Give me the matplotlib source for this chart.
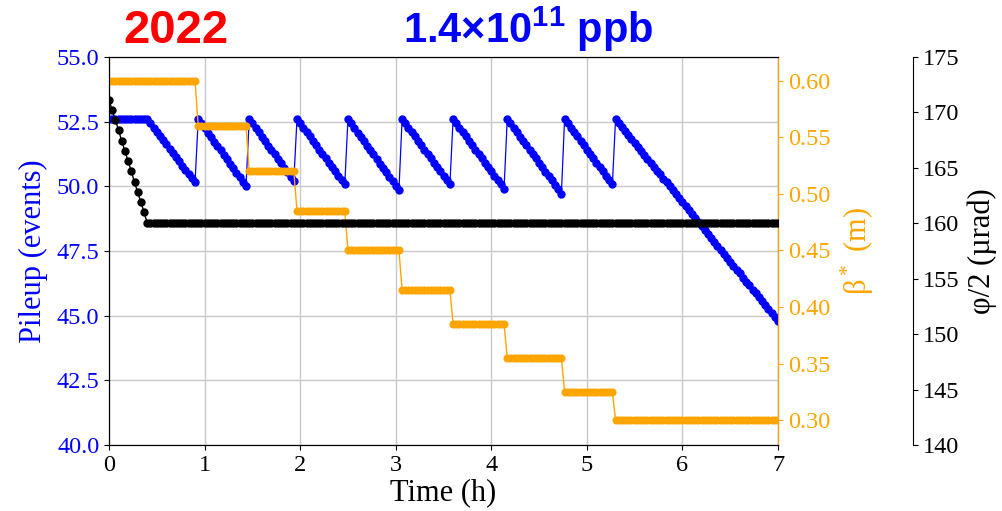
import numpy as np
import matplotlib
matplotlib.use('Agg')
import matplotlib.pyplot as plt
from matplotlib.ticker import FormatStrFormatter, MultipleLocator

STEP_MIN = 2  # sampling step of the levelling simulation (minutes)

# pileup (events), one value per step
pileup = [
    # crossing-angle levelling, pileup held
    52.6, 52.6, 52.6, 52.6, 52.6, 52.6, 52.6, 52.6, 52.6, 52.6, 52.6, 52.6, 52.6,
    52.44, 52.27, 52.11, 51.95, 51.78, 51.62, 51.46, 51.29, 51.13, 50.97, 50.80, 50.64, 50.48, 50.31, 50.15,
    52.6, 52.43, 52.25, 52.08, 51.91, 51.73, 51.56, 51.39, 51.21, 51.04, 50.87, 50.69, 50.52, 50.35, 50.17, 50.0,
    52.6, 52.43, 52.26, 52.09, 51.91, 51.74, 51.57, 51.40, 51.23, 51.06, 50.89, 50.71, 50.54, 50.37, 50.2,
    52.6, 52.43, 52.26, 52.09, 51.93, 51.76, 51.59, 51.42, 51.25, 51.08, 50.91, 50.74, 50.58, 50.41, 50.24, 50.07,
    52.6, 52.43, 52.26, 52.08, 51.91, 51.74, 51.57, 51.40, 51.23, 51.05, 50.88, 50.71, 50.54, 50.37, 50.19, 50.02, 49.85,
    52.6, 52.43, 52.26, 52.09, 51.93, 51.76, 51.59, 51.42, 51.25, 51.08, 50.91, 50.74, 50.58, 50.41, 50.24, 50.07,
    52.6, 52.43, 52.26, 52.09, 51.93, 51.76, 51.59, 51.42, 51.25, 51.08, 50.91, 50.74, 50.58, 50.41, 50.24, 50.07, 49.9,
    52.6, 52.43, 52.26, 52.09, 51.92, 51.75, 51.58, 51.41, 51.24, 51.08, 50.91, 50.74, 50.57, 50.40, 50.23, 50.06, 49.89, 49.72,
    52.6, 52.43, 52.26, 52.09, 51.93, 51.76, 51.59, 51.42, 51.25, 51.08, 50.91, 50.74, 50.58, 50.41, 50.24, 50.07,
    # last fill, beta* at 30 cm
    52.6, 52.45, 52.29, 52.14, 51.99, 51.83, 51.68, 51.53, 51.37, 51.22, 51.07,
    50.92, 50.76, 50.61, 50.46, 50.30, 50.15, 50.00, 49.84, 49.69, 49.54,
    49.38, 49.23, 49.08, 48.92, 48.77, 48.62, 48.47, 48.31, 48.16, 48.01,
    47.85, 47.70, 47.55, 47.39, 47.24, 47.09, 46.93, 46.78, 46.63, 46.47,
    46.32, 46.17, 46.01, 45.86, 45.71, 45.56, 45.40, 45.25, 45.10, 44.94, 44.79,
]

# beta* (m): plateaus held between levelling steps
beta_star = ([0.60] * 28 + [0.56] * 16 + [0.52] * 15 + [0.485] * 16 + [0.45] * 17
             + [0.415] * 16 + [0.385] * 17 + [0.355] * 18 + [0.325] * 16 + [0.30] * 52)

# half crossing angle (urad)
half_angle = ([171.1, 170.2, 169.3, 168.4, 167.4, 166.5, 165.6, 164.7, 163.7, 162.8, 161.9, 161.0, 160.0]
              + [160.0] * 198)

ORANGE = '#FFA500'


def main():
    plt.rcParams.update({'font.family': 'Liberation Serif', 'font.size': 17.5,
                         'mathtext.fontset': 'custom', 'mathtext.rm': 'Liberation Serif',
                         'mathtext.bf': 'Liberation Sans:bold'})
    t = np.arange(len(pileup)) * STEP_MIN / 60.0

    fig = plt.figure(figsize=(10.03, 5.11), dpi=100, facecolor='white')
    ax = fig.add_axes([0.1087, 0.1292, 0.6670, 0.7593])
    ax_b = ax.twinx()
    ax_p = ax.twinx()

    ax.grid(True, color='#c8c8c8', lw=1)
    ax.set_axisbelow(True)
    ax.plot(t, pileup, color='blue', lw=0.9, marker='o', ms=5)
    ax.set_xlim(0, 7)
    ax.set_ylim(40, 55)
    ax.yaxis.set_major_locator(MultipleLocator(2.5))
    ax.yaxis.set_major_formatter(FormatStrFormatter('%.1f'))
    ax.tick_params(axis='y', labelcolor='blue')
    ax.set_xlabel('Time (h)', fontsize=22, labelpad=2)
    ax.set_ylabel('Pileup (events)', color='blue', fontsize=22, labelpad=6)

    ax_b.plot(t, beta_star, color=ORANGE, lw=1, marker='o', ms=4.8)
    ax_b.set_ylim(0.278, 0.621)
    ax_b.yaxis.set_major_locator(MultipleLocator(0.05))
    ax_b.yaxis.set_major_formatter(FormatStrFormatter('%.2f'))
    ax_b.tick_params(axis='y', colors=ORANGE)
    ax_b.spines['right'].set_color(ORANGE)
    ax_b.set_ylabel('β$^*$ (m)', color=ORANGE, fontsize=22, labelpad=6)

    ax_p.plot(t, half_angle, color='black', lw=1, marker='o', ms=5)
    ax_p.set_ylim(140, 175)
    ax_p.yaxis.set_major_locator(MultipleLocator(5))
    ax_p.spines['right'].set_position(('outward', 97))
    for s in ['top', 'left', 'bottom']:
        ax_p.spines[s].set_visible(False)
    ax_p.set_ylabel('φ/2 (µrad)', fontsize=22, labelpad=6)

    fig.text(0.175, 0.916, '2022', color='red', fontsize=34, fontweight='bold',
             family='Liberation Sans', ha='center', va='baseline')
    fig.text(0.527, 0.916, r'1.4×10$^{\mathbf{11}}$ ppb', color='blue', fontsize=30,
             fontweight='bold', family='Liberation Sans', ha='center', va='baseline')

    fig.savefig('out.png', dpi=100)
    plt.close(fig)


if __name__ == '__main__':
    main()
